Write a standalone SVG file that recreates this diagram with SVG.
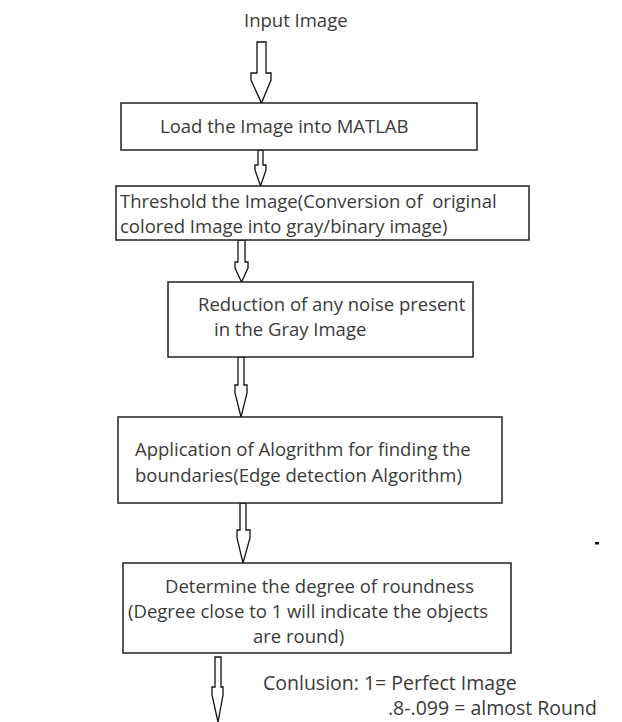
<svg xmlns="http://www.w3.org/2000/svg" width="622" height="722" viewBox="0 0 622 722">
<style>
.box{fill:#fff;stroke:#222;stroke-width:1.5}
.arr{fill:#fff;stroke:#111;stroke-width:1.3;stroke-linejoin:miter}
text{font-family:"Open Sans","Liberation Sans",Arial,sans-serif;font-size:18.5px;fill:#3a3a3a}
.big{font-size:19.5px}
</style>
<rect width="622" height="722" fill="#fff"/>
<g id="connectors">
<path class="arr" d="M257,42 V73 H251 V80 L261.5,103 L271,80 V73 H266 V42 Z"/>
<path class="arr" d="M258,150 V165 H255 V170 L260.5,186 L266,170 V165 H263 V150 Z"/>
<path class="arr" d="M238,240 V262 H235 V268 L241.5,282 L248,268 V262 H245 V240 Z"/>
<path class="arr" d="M238,357 V385 H235 V393 L241,417 L247,393 V385 H244 V357 Z"/>
<path class="arr" d="M240,503 V530 H237 V538 L243,563 L250,538 V530 H246 V503 Z"/>
<path class="arr" d="M215,657 V687 H212 V695 L218,722 L223,695 V687 H221 V657 Z"/>
</g>
<g id="input"><text x="244" y="27">Input Image</text></g>
<g id="load">
<rect class="box" x="121" y="103" width="356" height="47"/>
<text x="160" y="133">Load the Image into MATLAB</text>
</g>
<g id="threshold">
<rect class="box" x="116" y="186" width="413" height="54"/>
<text x="120" y="208" xml:space="preserve">Threshold the Image(Conversion of  original</text>
<text x="120" y="233">colored Image into gray/binary image)</text>
</g>
<g id="reduction">
<rect class="box" x="168" y="282" width="305" height="75"/>
<text x="198" y="311">Reduction of any noise present</text>
<text x="214" y="336">in the Gray Image</text>
</g>
<g id="application">
<rect class="box" x="118" y="417" width="384" height="86"/>
<text x="135" y="456">Application of Alogrithm for finding the</text>
<text x="135" y="482">boundaries(Edge detection Algorithm)</text>
</g>
<g id="determine">
<rect class="box" x="123" y="563" width="388" height="90"/>
<text x="165" y="593">Determine the degree of roundness</text>
<text x="128" y="618">(Degree close to 1 will indicate the objects</text>
<text x="253" y="643">are round)</text>
</g>
<g id="conclusion">
<text class="big" x="263" y="690">Conlusion: 1= Perfect Image</text>
<text class="big" x="388" y="715">.8-.099 = almost Round</text>
</g>
<rect x="595" y="542" width="4" height="2.5" fill="#111"/>
</svg>
